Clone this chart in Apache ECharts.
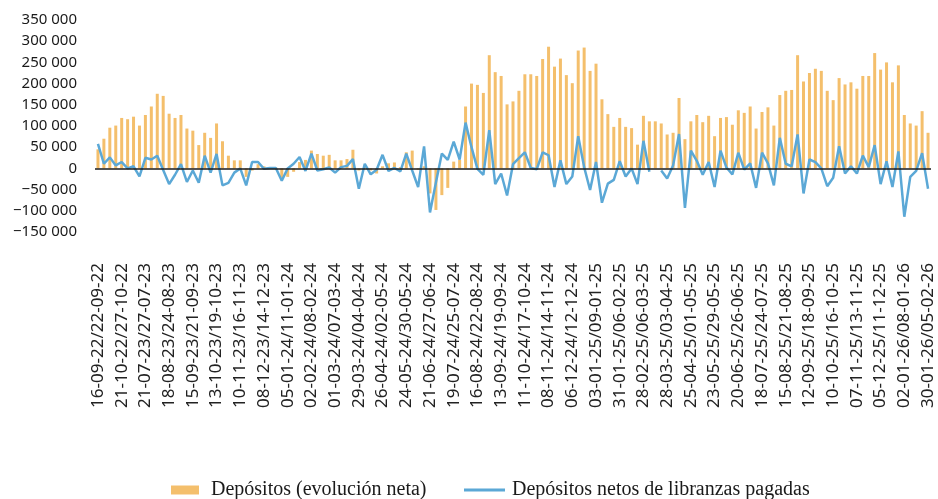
<!DOCTYPE html>
<html>
<head>
<meta charset="utf-8">
<script src="https://cdn.jsdelivr.net/npm/echarts@6/dist/echarts.min.js"></script>
<style>
html,body{margin:0;padding:0;background:#fff;}
#chart{width:938px;height:499px;}
</style>
</head>
<body>
<div id="chart"></div>
<script>
// Early (irregular) periods, then weekly periods from 21-07-23
const earlyCategories = [
  "16-09-22/22-09-22", "23-09-22/29-09-22", "30-09-22/06-10-22", "07-10-22/13-10-22",
  "21-10-22/27-10-22", "30-06-23/06-07-23", "07-07-23/13-07-23", "14-07-23/20-07-23"
];
const weeklyStart = "2023-07-21";
const weeklyCount = 133;

const seriesNames = ["Depósitos (evolución neta)", "Depósitos netos de libranzas pagadas"];

const depositos = [
  45000, 70000, 96000, 101000, 119000, 116000, 122000, 101000, 126000, 146000,
  176000, 171000, 129000, 119000, 126000, 94000, 89000, 55000, 84000, 72000,
  106000, 64000, 30000, 19000, 19000, -20000, -5000, 10000, 5000, 2000,
  2000, -22000, -20000, -8000, 15000, 20000, 42000, 34000, 30000, 32000,
  19000, 19000, 22000, 44000, -5000, 3000, -5000, -12000, 5000, 12000,
  14000, 3000, 38000, 42000, -3000, 5000, -59000, -98000, -63000, -46000,
  16000, 20000, 146000, 200000, 197000, 178000, 267000, 227000, 218000, 151000,
  158000, 183000, 222000, 222000, 218000, 258000, 287000, 240000, 259000, 220000,
  201000, 278000, 285000, 230000, 247000, 163000, 128000, 98000, 119000, 98000,
  95000, 56000, 124000, 111000, 111000, 106000, 80000, 84000, 166000, 69000,
  111000, 126000, 109000, 124000, 76000, 119000, 121000, 103000, 137000, 131000,
  146000, 94000, 133000, 144000, 101000, 173000, 183000, 185000, 267000, 205000,
  225000, 235000, 230000, 183000, 161000, 213000, 198000, 203000, 188000, 218000,
  218000, 272000, 233000, 250000, 203000, 243000, 126000, 106000, 101000, 135000,
  84000
];

const librangas = [
  58000, 11000, 26000, 7000, 15000, 0, 5000, -19000, 25000, 21000,
  30000, -4000, -37000, -15000, 10000, -32000, -5000, -34000, 30000, -10000,
  34000, -40000, -34000, -10000, 0, -40000, 15000, 15000, -1000, 1000,
  1000, -29000, 0, 11000, 27000, -6000, 35000, -5000, -2000, 2000,
  -10000, 3000, 6000, 22000, -48000, 11000, -14000, -3000, 32000, -6000,
  1000, -7000, 35000, -5000, -44000, 52000, -104000, -33000, 35000, 20000,
  63000, 21000, 108000, 50000, -1000, -15000, 90000, -37000, -12000, -64000,
  10000, 24000, 38000, 1000, -2000, 38000, 31000, -44000, 19000, -37000,
  -19000, 76000, 3000, -51000, 15000, -81000, -36000, -27000, 17000, -19000,
  0, -37000, 65000, -8000, null, -5000, -24000, 7000, 81000, -93000,
  42000, 18000, -15000, 15000, -44000, 42000, 2000, -14000, 37000, -3000,
  12000, -46000, 37000, 12000, -40000, 72000, 11000, 5000, 80000, -59000,
  21000, 15000, 0, -42000, -22000, 52000, -12000, 5000, -12000, 30000,
  3000, 55000, -37000, 17000, -44000, 40000, -114000, -20000, -6000, 36000,
  -48000
];

const yTicks = { min: -150000, max: 350000, interval: 50000 };

function pad(n){ return (n < 10 ? "0" : "") + n; }
function fmtDate(d){ return pad(d.getUTCDate()) + "-" + pad(d.getUTCMonth() + 1) + "-" + pad(d.getUTCFullYear() % 100); }
const categories = earlyCategories.slice();
(function(){
  const base = new Date(weeklyStart + "T00:00:00Z");
  for (let i = 0; i < weeklyCount; i++) {
    const s = new Date(base.getTime() + i * 7 * 86400000);
    const e = new Date(s.getTime() + 6 * 86400000);
    categories.push(fmtDate(s) + "/" + fmtDate(e));
  }
})();

function fmtNum(v){
  const neg = v < 0;
  const s = String(Math.abs(v)).replace(/\B(?=(\d{3})+(?!\d))/g, " ");
  return (neg ? "\u2212" : "") + s;
}

const txt = '#1a1a1a';
const barColor = '#F4BF6C';
const lineColor = '#5BA8D6';
const chart = echarts.init(document.getElementById('chart'), null, { renderer: 'canvas' });
chart.setOption({
  animation: false,
  backgroundColor: '#ffffff',
  grid: { left: 95, right: 7, top: 20, bottom: 267 },
  legend: [
    {
      data: [{ name: seriesNames[0], icon: 'rect' }], left: 171, top: 480, padding: 0,
      itemWidth: 28, itemHeight: 9,
      textStyle: { fontFamily: 'Liberation Serif', fontSize: 20, color: txt, padding: [0, 0, 0, 7] }
    },
    {
      data: [{ name: seriesNames[1], icon: 'rect' }], left: 464, top: 480, padding: 0,
      itemWidth: 41, itemHeight: 3,
      textStyle: { fontFamily: 'Liberation Serif', fontSize: 20, color: txt, padding: [0, 0, 0, 2] }
    }
  ],
  xAxis: {
    type: 'category', data: categories, boundaryGap: true,
    axisLine: { show: false }, axisTick: { show: false }, splitLine: { show: false },
    axisLabel: { interval: 3, rotate: 90, margin: 31, fontFamily: 'Noto Sans', fontSize: 17, color: '#222' }
  },
  yAxis: {
    type: 'value', min: yTicks.min, max: yTicks.max, interval: yTicks.interval,
    axisLine: { show: false }, axisTick: { show: false }, splitLine: { show: false },
    axisLabel: { margin: 18, fontFamily: 'Noto Sans', fontSize: 15, color: txt, formatter: fmtNum }
  },
  series: [
    {
      name: seriesNames[0], type: 'bar', data: depositos, barWidth: 3,
      itemStyle: { color: barColor },
      markLine: {
        silent: true, symbol: 'none', label: { show: false },
        lineStyle: { color: txt, width: 1.5, type: 'solid' },
        data: [{ yAxis: 0 }]
      }
    },
    {
      name: seriesNames[1], type: 'line', data: librangas, symbol: 'none',
      connectNulls: false,
      lineStyle: { color: lineColor, width: 2.5 },
      itemStyle: { color: lineColor }
    }
  ]
});
</script>
</body>
</html>
